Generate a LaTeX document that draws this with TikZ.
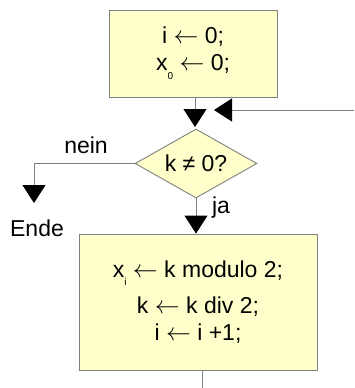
\documentclass[tikz,border=0pt]{standalone}
\usepackage{fontspec}
\setmainfont{Liberation Sans}
\usetikzlibrary{arrows.meta,shapes.geometric}
\definecolor{boxfill}{HTML}{FFFFCC}
\definecolor{linegray}{HTML}{808080}
\newcommand\subsc[1]{\raisebox{-0.38em}{\fontsize{10}{10}\selectfont #1}}
\tikzset{
  txt/.style={font=\fontsize{23}{25}\selectfont, inner sep=0pt},
  stepbox/.style={draw=linegray, fill=boxfill, line width=0.9pt, align=center, inner sep=0pt, txt},
  decbox/.style={diamond, draw=linegray, fill=boxfill, line width=0.9pt, inner sep=0pt, aspect=1.77, minimum width=122pt, minimum height=69pt, txt},
  flow/.style={draw=linegray, line width=0.9pt, -{Triangle[width=23pt,length=18pt,color=black,fill=black]}},
  plain/.style={draw=linegray, line width=0.9pt},
}
\begin{document}
\begin{tikzpicture}[x=1pt,y=-1pt]
\useasboundingbox (0,0) rectangle (354,388);
\node[stepbox, minimum width=168pt, minimum height=87pt] (init) at (193,53.5)
  {i $\leftarrow$ 0;\\[2pt] x\subsc{0} $\leftarrow$ 0;};
\node[decbox] (dec) at (196,163.5) {k \char"2260\ 0?};
\node[stepbox, minimum width=238pt, minimum height=136pt] (body) at (198,302)
  {x\subsc{i} $\leftarrow$ k modulo 2;\\[10pt] k $\leftarrow$ k div 2;\\[2pt] i $\leftarrow$ i +1;};
\node[txt] (nein) at (86,145) {nein};
\node[txt] (ja) at (221,208) {ja};
\node[txt] (ende) at (37,228) {Ende};
\coordinate (loopin) at (354,110);
\coordinate (loopend) at (214,110);
\coordinate (endtip) at (34,203);
\coordinate (bout) at (202,388);
\draw[flow] (init.south -| 195,0) -- (195,127);
\draw[flow] (loopin) -- (loopend);
\draw[flow] (dec.west) -| (endtip);
\draw[flow] (dec.south) -- (dec.south |- body.north);
\draw[plain] (body.south -| bout) -- (bout);
\end{tikzpicture}
\end{document}
